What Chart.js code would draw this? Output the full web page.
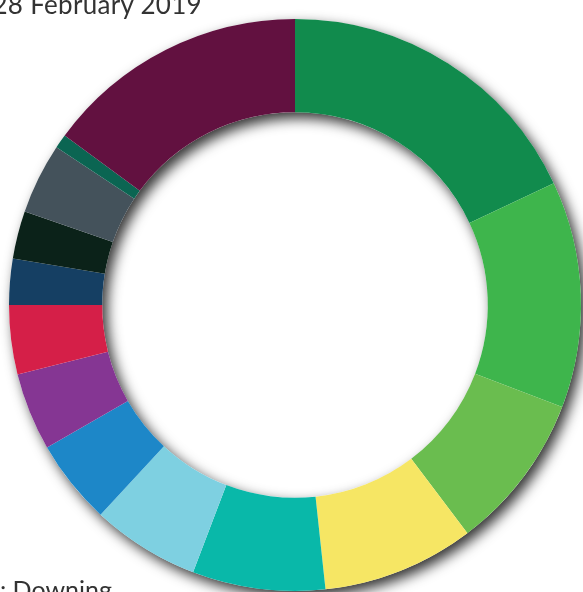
<!DOCTYPE html>
<html>
<head>
<meta charset="utf-8">
<script src="https://cdn.jsdelivr.net/npm/chart.js@4.4.1/dist/chart.umd.min.js"></script>
<style>
  html, body { margin: 0; padding: 0; background: #fff; overflow: hidden; }
  #wrap { position: relative; width: 583px; height: 592px; }
  #chart { position: absolute; left: 0; top: 0; }
  .note {
    position: absolute; white-space: nowrap; text-align: right;
    font-family: Lato, "Open Sans", sans-serif; font-size: 26px; color: #333;
    letter-spacing: 0.3px;
  }
  #date { right: 381px; top: -12px; }
  #source { right: 471px; top: 574px; font-size: 25px; letter-spacing: 0; }
</style>
</head>
<body>
<div id="wrap">
  <canvas id="chart" width="583" height="592"></canvas>
  <div class="note" id="date">28 February 2019</div>
  <div class="note" id="source">Sources: Downing</div>
</div>
<script>
const labels = [
  "Segment 1", "Segment 2", "Segment 3", "Segment 4", "Segment 5",
  "Segment 6", "Segment 7", "Segment 8", "Segment 9", "Segment 10",
  "Segment 11", "Segment 12", "Segment 13", "Segment 14",
];
const shares = [18.0, 12.8, 8.9, 8.6, 7.5, 6.1, 4.8, 4.4, 3.9, 2.6, 2.7, 4.0, 0.8, 14.9];
const colors = [
  "#118b4d", "#3eb54c", "#6abd4f", "#f6e664", "#09b8a9",
  "#7ed0e1", "#1d87c8", "#853693", "#d51f48", "#153f63",
  "#0b2219", "#44525b", "#0b6552", "#621140",
];

// Soft drop shadow under the whole ring (drawn once, so segment
// boundaries don't pick up stray shadow stripes).
const ringShadow = {
  id: "ringShadow",
  beforeDatasetsDraw(chart) {
    const arc = chart.getDatasetMeta(0).data[0];
    if (!arc) return;
    const { x, y, innerRadius, outerRadius } = arc.getProps(["x", "y", "innerRadius", "outerRadius"], true);
    const c = chart.ctx;
    c.save();
    c.shadowColor = "rgba(0,0,0,0.8)";
    c.shadowBlur = 13;
    c.shadowOffsetX = 5;
    c.shadowOffsetY = 6;
    c.beginPath();
    c.arc(x, y, outerRadius, 0, Math.PI * 2);
    c.arc(x, y, innerRadius, 0, Math.PI * 2, true);
    c.fillStyle = "#fff";
    c.fill("evenodd");
    c.restore();
  },
};

new Chart(document.getElementById("chart"), {
  type: "doughnut",
  data: {
    labels,
    datasets: [{
      data: shares,
      backgroundColor: colors,
      borderWidth: 0,
    }],
  },
  options: {
    responsive: false,
    animation: false,
    cutout: "67.4%",
    layout: { padding: { left: 9, right: 2, top: 19, bottom: 1 } },
    plugins: { legend: { display: false }, tooltip: { enabled: false } },
  },
  plugins: [ringShadow],
});
</script>
</body>
</html>
